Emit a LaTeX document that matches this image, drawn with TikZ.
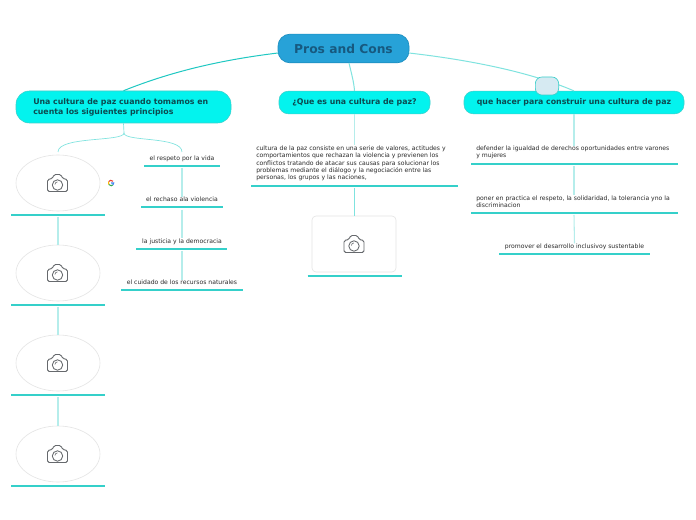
\documentclass[tikz,border=0pt]{standalone}
\usepackage{fontspec}
\setmainfont{DejaVu Sans}
\usetikzlibrary{shapes.geometric}
\definecolor{rootfill}{HTML}{27A2D8}
\definecolor{rootedge}{HTML}{1E8FC0}
\definecolor{roottext}{HTML}{17597F}
\definecolor{cyanfill}{HTML}{03F3EE}
\definecolor{cyanedge}{HTML}{3CCFCB}
\definecolor{teal}{HTML}{1FC8C2}
\definecolor{midteal}{HTML}{7FE3DF}
\definecolor{pale}{HTML}{B5EDEB}
\definecolor{under}{HTML}{35D0CA}
\definecolor{ghost}{HTML}{E4E4E4}
\definecolor{icon}{HTML}{66696D}
\definecolor{ink}{HTML}{2A2A2A}
\definecolor{bubble}{HTML}{D6EAF2}
\definecolor{boldink}{HTML}{0C4A50}
\definecolor{gred}{HTML}{EA4335}
\definecolor{gyel}{HTML}{FBBC05}
\definecolor{ggrn}{HTML}{34A853}
\definecolor{gblu}{HTML}{4285F4}
\tikzset{
  x=0.75pt,y=-0.75pt,
  rootbox/.style={draw=rootedge,fill=rootfill,rounded corners=9,line width=0.5pt,inner sep=0pt,minimum width=98.25pt,minimum height=21.5pt,text=roottext,font=\bfseries\fontsize{9.2}{11}\selectfont},
  mainbox/.style={draw=cyanedge,fill=cyanfill,rounded corners=7,line width=0.4pt,inner sep=0pt,text=boldink,font=\bfseries\fontsize{5.87}{7.7}\selectfont},
  leaf/.style={inner sep=0pt,text=ink,font=\fontsize{4.58}{5.55}\selectfont},
  para/.style={leaf,anchor=west,align=left},
  rule/.style={under,line width=1.15pt},
  strong/.style={teal,line width=0.75pt},
  mid/.style={midteal,line width=0.75pt},
  link/.style={pale,line width=0.8pt},
  photo/.style={draw=ghost,line width=0.45pt,fill=white,ellipse,minimum width=63pt,minimum height=42pt,inner sep=0pt},
}
\newcommand{\camicon}[1]{%
  \begin{scope}[shift={(#1)}]
    \draw[icon,line width=0.7pt,line join=round,rounded corners=1.2pt]
      (-10,8.5)--(-10,-3.5)--(-5,-4.5)--(-3.5,-8.5)--(3.5,-8.5)--(5,-4.5)--(10,-3.5)--(10,8.5)--cycle;
    \draw[icon,line width=0.65pt] (0,2) circle (5.2);
    \draw[icon,line width=0.45pt] (-2.6,1.5) arc (180:270:2.6);
  \end{scope}}
\begin{document}
\begin{tikzpicture}
\useasboundingbox (0,0) rectangle (696,520);
\fill[white] (0,0) rectangle (696,520);

\node[rootbox] (root) at (343.5,48.5) {Pros and Cons};
\node[mainbox,rounded corners=10,minimum width=161.25pt,minimum height=24pt] (left) at (123.5,107) {};
\node[para,text=boldink,font=\bfseries\fontsize{5.87}{7.8}\selectfont] (lefttext) at (33,107.5) {Una cultura de paz cuando tomamos en\\cuenta los siguientes principios};
\node[mainbox,minimum width=113.25pt,minimum height=17pt] (middle) at (354.5,102.5) {¿Que es una cultura de paz?};
\node[mainbox,minimum width=165pt,minimum height=17pt] (right) at (574,102.5) {que hacer para construir una cultura de paz};

\coordinate (rl) at (278,53);
\coordinate (rm) at (349,63);
\coordinate (rr) at (409,53);
\draw[strong] (rl) .. controls (220,60) and (170,72) .. (left.north);
\draw[mid] (rm) .. controls (351,72) and (354,82) .. (middle.north);
\draw[mid] (rr) .. controls (470,60) and (530,72) .. (right.north);
\node[draw=cyanedge,fill=bubble,rounded corners=5,line width=0.5pt,minimum width=17.5pt,minimum height=13.5pt,inner sep=0pt] (badge) at (547,86) {};

% left column
\node[photo] (p1) at (58,183) {};
\node[photo] (p2) at (58,273) {};
\node[photo] (p3) at (58,363) {};
\node[photo] (p4) at (58,454) {};
\coordinate (u1a) at (11,215); \coordinate (u1b) at (105,215); \coordinate (u1c) at (58,217);
\coordinate (u2a) at (11,305); \coordinate (u2b) at (105,305); \coordinate (u2c) at (58,307);
\coordinate (u3a) at (11,395); \coordinate (u3b) at (105,395); \coordinate (u3c) at (58,397);
\coordinate (u4a) at (11,486); \coordinate (u4b) at (105,486);
\draw[rule] (u1a)--(u1b); \draw[rule] (u2a)--(u2b); \draw[rule] (u3a)--(u3b); \draw[rule] (u4a)--(u4b);
\draw[link] (u1c)--(p2.north);
\draw[link] (u2c)--(p3.north);
\draw[link] (u3c)--(p4.north);
\camicon{57.5,183}\camicon{57.5,273}\camicon{57.5,363}\camicon{57.5,454}

% Google mark
\begin{scope}[shift={(111,183)},line width=0.8pt]
  \draw[gred] (-40:2.7) arc (-40:-150:2.7);
  \draw[gyel] (-150:2.7) arc (-150:-215:2.7);
  \draw[ggrn] (-215:2.7) arc (-215:-315:2.7);
  \draw[gblu] (0.2,0)--(2.7,0) arc (0:45:2.7);
\end{scope}

% second column
\node[leaf] (a1) at (182,158.5) {el respeto por la vida};
\node[leaf] (a2) at (182,199.5) {el rechaso ala violencia};
\node[leaf] (a3) at (182,241.5) {la justicia y la democracia};
\node[leaf] (a4) at (182,282.5) {el cuidado de los recursos naturales};
\coordinate (a1a) at (144,166); \coordinate (a1b) at (220,166); \coordinate (a1c) at (182,168);
\coordinate (a2a) at (141,207); \coordinate (a2b) at (223,207); \coordinate (a2c) at (182,210);
\coordinate (a3a) at (136,249); \coordinate (a3b) at (227,249); \coordinate (a3c) at (182,251);
\coordinate (a4a) at (121,290); \coordinate (a4b) at (243,290);
\draw[rule] (a1a)--(a1b); \draw[rule] (a2a)--(a2b); \draw[rule] (a3a)--(a3b); \draw[rule] (a4a)--(a4b);
\draw[link] (a1c)--(a2.north);
\draw[link] (a2c)--(a3.north);
\draw[link] (a3c)--(a4.north);

% fork
\coordinate (fork) at (124,133);
\coordinate (t1) at (58,152);
\coordinate (t2) at (182,152);
\draw[mid,line width=0.5pt] (left.south)--(fork);
\draw[mid,line width=0.5pt] (fork) .. controls (124,142) and (58,136) .. (t1);
\draw[mid,line width=0.5pt] (fork) .. controls (124,142) and (182,136) .. (t2);

% middle column
\node[para] (mt) at (256,163.5) {cultura de la paz consiste en una serie de valores, actitudes y\\comportamientos que rechazan la violencia y previenen los\\conflictos tratando de atacar sus causas para solucionar los\\problemas mediante el diálogo y la negociación entre las\\personas, los grupos y las naciones,};
\coordinate (mua) at (251,186); \coordinate (mub) at (458,186); \coordinate (muc) at (354,188);
\draw[rule] (mua)--(mub);
\draw[link] (middle.south)--(mt.north -| middle.south);
\node[draw=ghost,line width=0.45pt,fill=white,rounded corners=3,minimum width=63pt,minimum height=42pt,inner sep=0pt] (photoM) at (354,244) {};
\coordinate (pma) at (307.5,276); \coordinate (pmb) at (402,276);
\draw[rule] (pma)--(pmb);
\draw[mid] (muc)--(photoM.north);
\camicon{354,244}

% right column
\node[para] (r1) at (476,152.5) {defender la igualdad de derechos oportunidades entre varones\\y mujeres};
\node[para] (r2) at (476,201.5) {poner en practica el respeto, la solidaridad, la tolerancia yno la\\discriminacion};
\node[leaf] (r3) at (574.5,246.5) {promover el desarrollo inclusivoy sustentable};
\coordinate (r1a) at (471,164); \coordinate (r1b) at (678,164); \coordinate (r1c) at (574,166);
\coordinate (r2a) at (471,213); \coordinate (r2b) at (678,213); \coordinate (r2c) at (574,215);
\coordinate (r3a) at (499,254); \coordinate (r3b) at (650,254);
\draw[rule] (r1a)--(r1b); \draw[rule] (r2a)--(r2b); \draw[rule] (r3a)--(r3b);
\draw[link] (right.south)--(r1.north -| right.south);
\draw[link] (r1c)--(r2.north -| r1c);
\draw[link] (r2c)--(r3.north);
\end{tikzpicture}
\end{document}
